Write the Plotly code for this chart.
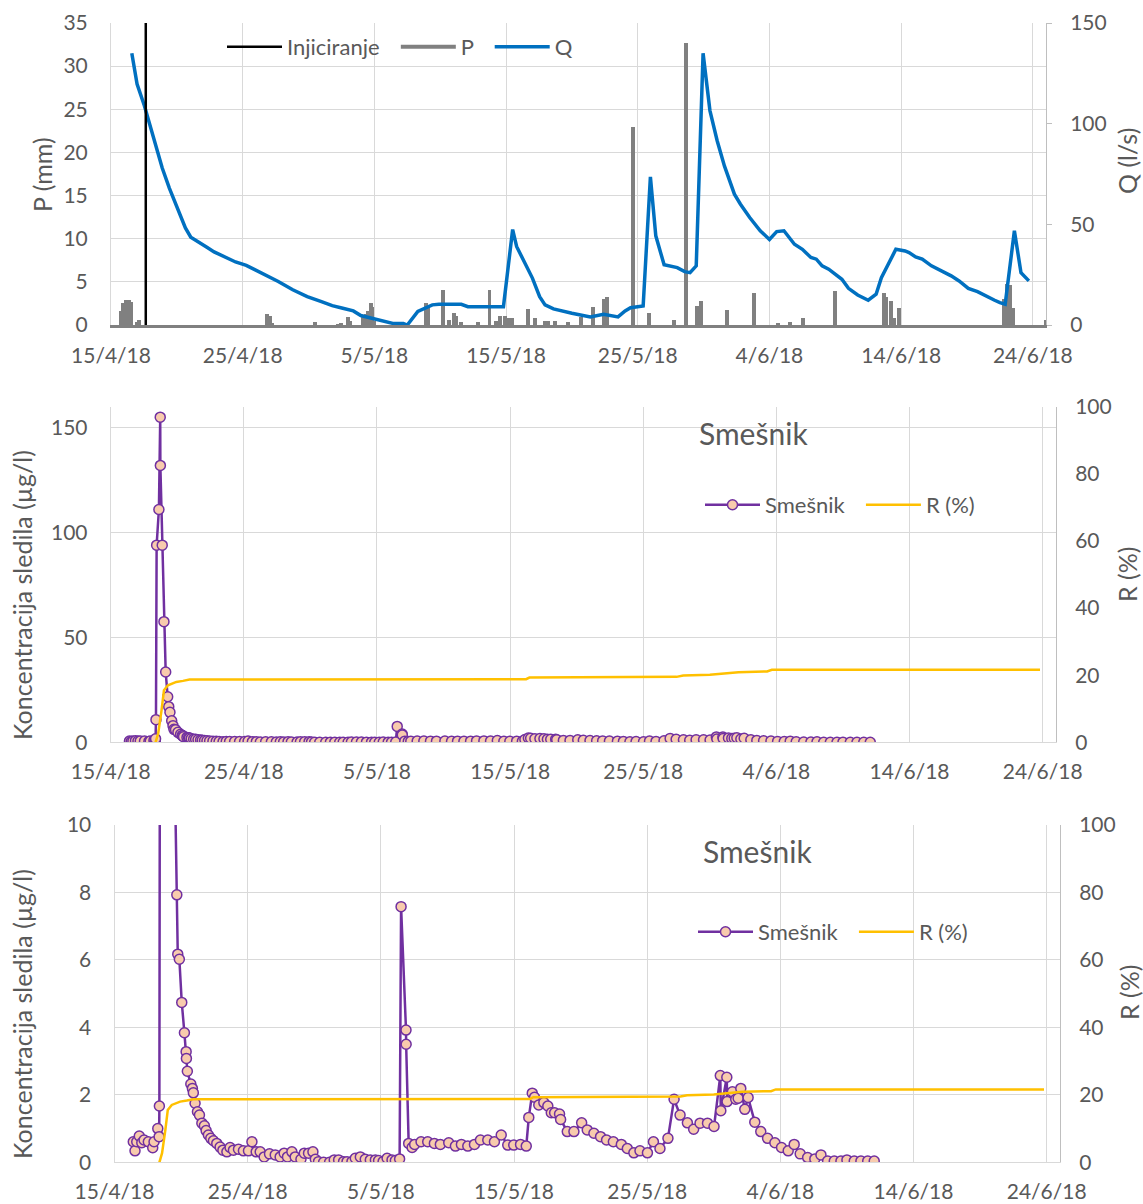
import pandas as pd
import plotly.graph_objects as go

START = pd.Timestamp("2018-04-15")
END_DAY = 71.0

tick_days = [0, 10, 20, 30, 40, 50, 60, 70]
tick_labels = ["15/4/18", "25/4/18", "5/5/18", "15/5/18", "25/5/18", "4/6/18", "14/6/18", "24/6/18"]

# injection time (days after 15/4/18 00:00)
inj_day = 2.64

# Precipitation P (mm)
p_day = [0.74, 0.94, 1.14, 1.35, 1.50, 2.00, 2.15, 11.86, 12.06, 12.20,
         15.46, 17.24, 17.44, 18.00, 18.15, 19.17, 19.35, 19.52, 19.73, 19.85,
         20.00, 23.90, 24.10, 25.19, 25.69, 26.02, 26.20, 26.58, 27.90, 28.74,
         29.25, 29.57, 29.93, 30.18, 30.44, 31.66, 32.22, 32.93, 33.18, 33.69,
         34.71, 35.67, 36.61, 37.45, 37.65, 39.65, 40.87, 42.78, 43.66, 44.48,
         44.78, 46.76, 48.80, 50.65, 51.59, 52.53, 55.01, 58.70, 58.87, 59.20,
         59.46, 59.84, 67.84, 68.01, 68.26, 68.47, 70.96]
p_mm = [1.6, 2.6, 2.9, 2.9, 2.7, 0.4, 0.6, 1.3, 1.0, 0.2,
        0.4, 0.1, 0.2, 0.9, 0.5, 0.9, 1.3, 1.6, 2.6, 2.1,
        0.5, 2.6, 2.0, 4.0, 0.6, 1.4, 1.0, 0.4, 0.4, 4.0,
        0.5, 1.1, 1.0, 0.8, 0.8, 1.9, 0.8, 0.5, 0.5, 0.5,
        0.4, 0.9, 2.1, 3.0, 3.2, 23.0, 1.4, 0.6, 32.7, 2.2,
        2.8, 1.7, 3.7, 0.2, 0.4, 0.8, 3.9, 3.7, 3.2, 2.8,
        0.8, 2.0, 3.0, 4.7, 4.6, 2.0, 0.6]

# Discharge Q (l/s)
q_day = [1.58, 1.98, 2.53, 3.20, 3.89, 4.43, 4.97, 5.65, 6.06, 6.60,
         7.28, 7.83, 8.64, 9.46, 10.27, 11.63, 12.70, 13.80, 14.90, 15.98,
         16.80, 17.60, 18.40, 18.97, 19.80, 20.60, 21.40, 22.20, 22.50, 23.30,
         24.40, 24.90, 26.60, 27.10, 29.80, 30.50, 30.80, 32.00, 32.55, 32.96,
         33.60, 35.00, 36.40, 37.40, 38.50, 39.04, 39.45, 40.41, 40.96, 41.37,
         42.00, 43.00, 43.56, 43.97, 44.44, 44.96, 45.48, 46.03, 46.58, 47.34,
         47.80, 48.50, 49.30, 50.00, 50.55, 51.10, 51.90, 52.50, 53.15, 53.56,
         54.00, 54.50, 55.50, 56.00, 56.70, 57.50, 58.10, 58.50, 59.00, 59.60,
         60.30, 60.60, 61.10, 61.60, 62.30, 63.00, 63.80, 64.40, 65.10, 65.80,
         66.40, 67.10, 67.50, 67.90, 68.60, 69.10, 69.70]
q_ls = [135, 119.7, 109, 93, 78, 68, 59, 48.2, 43.6, 41.2,
        38.6, 36.3, 33.6, 31.3, 29.6, 25.3, 21.6, 17.5, 14.1, 11.6,
        9.6, 8.3, 7.0, 4.7, 3.3, 2.0, 0.8, 0.8, 0.0, 6.7,
        10.0, 10.3, 10.3, 9.1, 9.1, 47.4, 39.0, 23.3, 14.1, 10.0,
        8.0, 5.8, 4.0, 5.3, 4.0, 7.0, 8.6, 9.5, 73.6, 44.3,
        29.9, 28.5, 26.5, 26.0, 29.4, 135, 106.5, 91.5, 79, 65,
        60, 53.4, 46.8, 42.5, 46.4, 46.8, 40.1, 37.6, 33.5, 32.7,
        29.4, 27.7, 22.7, 18.2, 14.9, 12.3, 15.3, 23.5, 30.2, 37.6,
        36.8, 36.0, 33.8, 32.7, 29.4, 27.2, 24.4, 21.9, 18.2, 16.6,
        14.4, 12.3, 11.1, 10.3, 46.8, 26.0, 21.9]

# Tracer concentration Smešnik (µg/l)
conc_day = [1.41, 1.54, 1.67, 1.86, 2.05, 2.22, 2.54, 2.87, 2.97, 3.25, 3.35, 3.37,
            3.40, 3.45, 3.62, 3.72, 3.73, 3.87, 4.00, 4.13, 4.28, 4.36, 4.45, 4.58,
            4.68, 4.75, 4.87, 5.05, 5.25, 5.38, 5.40, 5.47, 5.73, 5.85,
            5.92, 6.05, 6.23, 6.38, 6.56, 6.75, 6.88, 7.05, 7.23, 7.43,
            7.68, 7.93, 8.14, 8.44, 8.68, 8.93, 9.31, 9.68, 10.06, 10.32,
            10.64, 10.94, 11.24, 11.64, 12.07, 12.44, 12.74, 12.99, 13.32, 13.57,
            14.00, 14.25, 14.57, 14.90, 15.08, 15.32, 15.70, 16.15, 16.50, 16.83,
            17.20, 17.46, 17.83, 18.08, 18.46, 18.83, 19.21, 19.59, 19.83, 20.17,
            20.47, 20.84, 21.09, 21.41, 21.52, 21.89, 21.90, 22.09, 22.35, 22.54,
            23.02, 23.52, 24.02, 24.47, 25.10, 25.60, 26.05, 26.53, 27.03, 27.48,
            28.03, 28.53, 29.04, 29.53, 29.98, 30.49, 30.92, 31.11, 31.37, 31.54,
            31.86, 32.24, 32.54, 32.80, 33.05, 33.42, 33.50, 34.00, 34.50, 35.08,
            35.50, 36.00, 36.50, 36.95, 37.46, 38.06, 38.51, 39.00, 39.46, 40.02,
            40.47, 40.96, 41.56, 42.02, 42.47, 43.02, 43.49, 43.97, 44.53, 45.02,
            45.49, 45.53, 45.98, 46.00, 46.40, 46.65, 46.83, 47.03, 47.33, 47.58,
            48.08, 48.53, 49.04, 49.59, 50.09, 50.59, 51.04, 51.49, 52.05, 52.59,
            53.05, 53.55, 54.05, 54.55, 55.00, 55.55, 56.05, 56.56, 57.05]
conc_ugl = [0.61, 0.34, 0.61, 0.78, 0.58, 0.66, 0.61, 0.43, 0.61, 1.00, 0.76, 1.67,
            10.8, 94, 111, 155, 132, 94, 57.5, 33.5, 21.7, 17.0, 14.3, 10.3,
            7.93, 6.17, 6.02, 4.74, 3.84, 3.28, 3.08, 2.70, 2.32, 2.19,
            2.06, 1.75, 1.50, 1.40, 1.16, 1.08, 0.94, 0.81, 0.71, 0.64,
            0.56, 0.45, 0.36, 0.31, 0.44, 0.36, 0.39, 0.34, 0.34, 0.61,
            0.31, 0.31, 0.16, 0.25, 0.22, 0.16, 0.27, 0.16, 0.31, 0.16,
            0.09, 0.27, 0.27, 0.31, 0.09, 0.02, 0.00, 0.00, 0.07, 0.07,
            0.02, 0.02, 0.02, 0.12, 0.16, 0.09, 0.07, 0.07, 0.05, 0.02,
            0.12, 0.07, 0.05, 0.10, 7.58, 3.92, 3.50, 0.56, 0.44, 0.53,
            0.61, 0.61, 0.56, 0.53, 0.58, 0.48, 0.53, 0.48, 0.53, 0.66,
            0.66, 0.61, 0.81, 0.51, 0.51, 0.53, 0.48, 1.33, 2.05, 1.93,
            1.70, 1.77, 1.67, 1.47, 1.47, 1.43, 1.27, 0.91, 0.91, 1.17,
            0.96, 0.86, 0.76, 0.66, 0.61, 0.53, 0.41, 0.28, 0.34, 0.28,
            0.61, 0.41, 0.71, 1.87, 1.40, 1.17, 0.98, 1.16, 1.16, 1.06,
            2.57, 1.53, 2.52, 1.80, 2.09, 1.87, 1.90, 2.19, 1.57, 1.92,
            1.19, 0.91, 0.71, 0.58, 0.44, 0.34, 0.53, 0.25, 0.14, 0.10,
            0.22, 0.04, 0.04, 0.04, 0.07, 0.04, 0.04, 0.04, 0.04]

# Recovery R (%)
r_day = [3.37, 3.57, 3.82, 4.00, 4.30, 4.93, 5.43, 5.92, 31.20, 31.45,
         42.50, 43.00, 45.00, 46.15, 47.15, 49.30, 49.66, 69.80]
r_pct = [0.0, 2.7, 9.6, 15.5, 17.0, 18.0, 18.3, 18.7, 18.8, 19.3,
         19.5, 19.9, 20.1, 20.6, 20.9, 21.1, 21.6, 21.6]


def dt(days):
    return [START + pd.Timedelta(days=d) for d in days]


W, H = 1143, 1204


def fx(px):
    return px / W


def fy(py):
    return 1 - py / H


GRID = "#D9D9D9"
TXT = "#595959"
FONT = "Lato"
TICKF = dict(family=FONT, size=21, color=TXT)
PURPLE = "#7030A0"
PEACH = "#F8CBAD"
GOLD = "#FFC000"
SP = "\u00a0\u00a0"

fig = go.Figure()

# ---- top panel
fig.add_trace(go.Bar(x=dt(p_day), y=p_mm, width=0.3 * 86400000,
                     marker=dict(color="#808080", line=dict(width=0)),
                     xaxis="x", yaxis="y", showlegend=False, name="P"))
fig.add_trace(go.Scatter(x=[None], y=[None], mode="lines",
                         line=dict(color="#808080", width=4), name="P" + SP,
                         xaxis="x", yaxis="y", legend="legend", legendrank=2))
fig.add_trace(go.Scatter(x=dt(q_day), y=q_ls, mode="lines",
                         line=dict(color="#0070C0", width=3.5), name="Q",
                         xaxis="x", yaxis="y2", legend="legend", legendrank=3))
fig.add_trace(go.Scatter(x=dt([inj_day, inj_day]), y=[0, 150], mode="lines",
                         line=dict(color="black", width=2.5), name="Injiciranje" + SP,
                         xaxis="x", yaxis="y2", legend="legend", legendrank=1))

# ---- middle & bottom panels
for xa, ya, yb, lg in [("x2", "y3", "y4", "legend2"), ("x3", "y5", "y6", "legend3")]:
    fig.add_trace(go.Scatter(x=dt(conc_day), y=conc_ugl, mode="lines+markers",
                             line=dict(color=PURPLE, width=2.5),
                             marker=dict(size=10, color=PEACH, line=dict(color=PURPLE, width=1.5)),
                             name="Smešnik" + SP, xaxis=xa, yaxis=ya, legend=lg))
    fig.add_trace(go.Scatter(x=dt(r_day), y=r_pct, mode="lines",
                             line=dict(color=GOLD, width=2.5), name="R (%)",
                             xaxis=xa, yaxis=yb, legend=lg))

xrange = [START, START + pd.Timedelta(days=END_DAY)]


def xax(x0, x1, anchor, linecolor, linewidth):
    return dict(domain=[fx(x0), fx(x1)], anchor=anchor, type="date", range=xrange,
                tickmode="array", tickvals=dt(tick_days), ticktext=tick_labels,
                showgrid=True, gridcolor=GRID, gridwidth=1, automargin=False,
                showline=True, linecolor=linecolor, linewidth=linewidth,
                ticks="", ticklabelstandoff=10, tickfont=TICKF, zeroline=False)


def yleft(y0, y1, anchor, rng, tickvals):
    return dict(domain=[fy(y0), fy(y1)], anchor=anchor, range=rng,
                tickmode="array", tickvals=tickvals, automargin=False,
                showgrid=True, gridcolor=GRID, gridwidth=1,
                showline=True, linecolor=GRID, linewidth=1, zeroline=False,
                ticks="", ticklabelstandoff=18, tickfont=TICKF)


def yright(over, anchor, rng, tickvals, ticks):
    return dict(overlaying=over, side="right", anchor=anchor, range=rng,
                tickmode="array", tickvals=tickvals, showgrid=False, automargin=False,
                showline=True, linecolor="#BFBFBF", linewidth=1, zeroline=False,
                ticks=ticks, ticklen=5, tickcolor="#BFBFBF",
                ticklabelstandoff=14, tickfont=TICKF)


leg_common = dict(orientation="h", xanchor="left", yanchor="middle",
                  bgcolor="rgba(0,0,0,0)", font=dict(family=FONT, size=22, color=TXT),
                  itemwidth=55, tracegroupgap=0, traceorder="normal")

fig.update_layout(
    width=W, height=H, margin=dict(l=0, r=0, t=0, b=0, autoexpand=False),
    paper_bgcolor="white", plot_bgcolor="white",
    font=dict(family=FONT, color=TXT),
    bargap=0,
    xaxis=xax(111, 1046, "y", "#808080", 3),
    yaxis=yleft(325, 23, "x", [0, 35], [0, 5, 10, 15, 20, 25, 30, 35]),
    yaxis2=yright("y", "x", [0, 150], [0, 50, 100, 150], "outside"),
    xaxis2=xax(110.7, 1056, "y3", GRID, 1),
    yaxis3=yleft(742.3, 406.7, "x2", [0, 160], [0, 50, 100, 150]),
    yaxis4=yright("y3", "x2", [0, 100], [0, 20, 40, 60, 80, 100], ""),
    xaxis3=xax(114.5, 1060, "y5", GRID, 1),
    yaxis5=yleft(1162.3, 825, "x3", [0, 10], [0, 2, 4, 6, 8, 10]),
    yaxis6=yright("y5", "x3", [0, 100], [0, 20, 40, 60, 80, 100], ""),
    legend=dict(x=fx(222), y=fy(47), **leg_common),
    legend2=dict(x=fx(700), y=fy(505), **leg_common),
    legend3=dict(x=fx(693), y=fy(932), **leg_common),
)

ann = [
    dict(text="P (mm)", x=fx(42), y=fy(175), textangle=-90, size=25),
    dict(text="Q (l/s)", x=fx(1127), y=fy(161), textangle=-90, size=25),
    dict(text="Koncentracija sledila (µg/l)", x=fx(22), y=fy(595), textangle=-90, size=25),
    dict(text="R (%)", x=fx(1127), y=fy(575), textangle=-90, size=25),
    dict(text="Koncentracija sledila (µg/l)", x=fx(22), y=fy(1014), textangle=-90, size=25),
    dict(text="R (%)", x=fx(1129), y=fy(993), textangle=-90, size=25),
    dict(text="Smešnik", x=fx(753), y=fy(433), textangle=0, size=30),
    dict(text="Smešnik", x=fx(757), y=fy(851), textangle=0, size=30),
]
for a in ann:
    fig.add_annotation(text=a["text"], x=a["x"], y=a["y"], xref="paper", yref="paper",
                       xanchor="center", yanchor="middle", showarrow=False,
                       textangle=a["textangle"],
                       font=dict(family=FONT, size=a["size"], color=TXT))

fig.write_html("out.html", config={"displayModeBar": False},
               post_script="document.body.style.margin='0px';document.body.style.overflow='hidden';")
